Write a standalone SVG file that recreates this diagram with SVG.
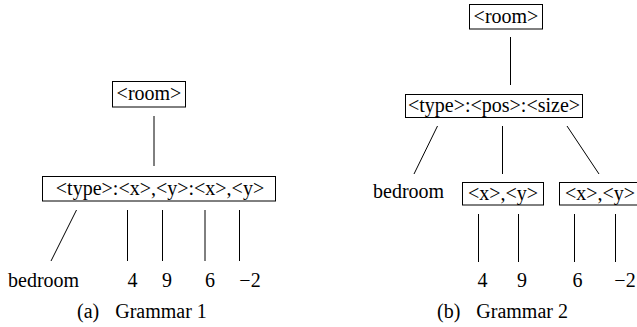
<svg xmlns="http://www.w3.org/2000/svg" width="637" height="327" viewBox="0 0 637 327">
<style>
text{font-family:"Liberation Serif","Times New Roman",serif;font-size:20px;fill:#000}
.c{text-anchor:middle}
.box{fill:#fff;stroke:#000;stroke-width:1}
.ln{stroke:#000;stroke-width:1;fill:none}
</style>
<rect width="637" height="327" fill="#fff"/>
<g id="connectors">
<line class="ln" x1="154" y1="116" x2="154" y2="166"/>
<line class="ln" x1="76.5" y1="210" x2="51" y2="261"/>
<line class="ln" x1="127.5" y1="210" x2="127.5" y2="261"/>
<line class="ln" x1="162.5" y1="210" x2="162.5" y2="261"/>
<line class="ln" x1="205" y1="210" x2="205" y2="261"/>
<line class="ln" x1="239.5" y1="210" x2="239.5" y2="261"/>
<line class="ln" x1="510.5" y1="37" x2="510.5" y2="85"/>
<line class="ln" x1="437.5" y1="126" x2="414" y2="174"/>
<line class="ln" x1="502.5" y1="126" x2="502.5" y2="174"/>
<line class="ln" x1="567" y1="126" x2="599" y2="174"/>
<line class="ln" x1="478.5" y1="214" x2="478.5" y2="262"/>
<line class="ln" x1="518.5" y1="214" x2="518.5" y2="262"/>
<line class="ln" x1="574.5" y1="214" x2="574.5" y2="262"/>
<line class="ln" x1="615.5" y1="214" x2="615.5" y2="262"/>
</g>
<g id="a-room"><rect class="box" x="112.5" y="81.5" width="73" height="25.5"/><text class="c" x="149" y="100">&lt;room&gt;</text></g>
<g id="a-type"><rect class="box" x="42.5" y="176.5" width="233" height="24.5"/><text class="c" x="160" y="195">&lt;type&gt;:&lt;x&gt;,&lt;y&gt;:&lt;x&gt;,&lt;y&gt;</text></g>
<g id="a-bedroom"><text x="8" y="287">bedroom</text></g>
<g id="a-4"><text class="c" x="132.5" y="287">4</text></g>
<g id="a-9"><text class="c" x="167" y="287">9</text></g>
<g id="a-6"><text class="c" x="210" y="287">6</text></g>
<g id="a-m2"><text class="c" x="250" y="287">−2</text></g>
<g id="a-caption"><text x="77" y="318">(a)<tspan dx="16">Grammar 1</tspan></text></g>
<g id="b-room"><rect class="box" x="469.5" y="4.5" width="73" height="24.5"/><text class="c" x="506" y="23">&lt;room&gt;</text></g>
<g id="b-type"><rect class="box" x="405.5" y="94.5" width="177" height="23"/><text class="c" x="494" y="112">&lt;type&gt;:&lt;pos&gt;:&lt;size&gt;</text></g>
<g id="b-bedroom"><text x="373" y="198">bedroom</text></g>
<g id="b-xy1"><rect class="box" x="462.5" y="182.5" width="81" height="22.5"/><text class="c" x="503" y="200">&lt;x&gt;,&lt;y&gt;</text></g>
<g id="b-xy2"><rect class="box" x="559.5" y="182.5" width="81" height="22.5"/><text class="c" x="600" y="200">&lt;x&gt;,&lt;y&gt;</text></g>
<g id="b-4"><text class="c" x="482.5" y="287">4</text></g>
<g id="b-9"><text class="c" x="522" y="287">9</text></g>
<g id="b-6"><text class="c" x="577.5" y="287">6</text></g>
<g id="b-m2"><text class="c" x="625" y="287">−2</text></g>
<g id="b-caption"><text x="437" y="318">(b)<tspan dx="16">Grammar 2</tspan></text></g>
</svg>
